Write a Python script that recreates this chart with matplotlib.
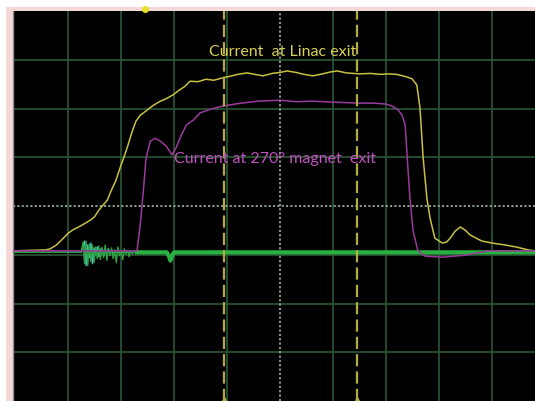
import matplotlib
matplotlib.use("Agg")
import matplotlib.pyplot as plt
from matplotlib.patches import Rectangle

# time in divisions, signal in divisions
linac_t = [-0.04, 0.58, 0.66, 0.78, 0.91, 1.00, 1.09, 1.25, 1.42, 1.50, 1.57, 1.66,
           1.74, 1.81, 1.90, 1.98, 2.06, 2.13, 2.20, 2.28, 2.36, 2.47, 2.60, 2.74,
           2.85, 2.98, 3.10, 3.20, 3.30, 3.45, 3.60, 3.75, 3.92, 4.05, 4.20, 4.38,
           4.52, 4.68, 4.85, 5.00, 5.13, 5.30, 5.45, 5.62, 5.80, 5.95, 6.08, 6.25,
           6.51, 6.70, 6.90, 7.04, 7.20, 7.35, 7.49, 7.58, 7.64, 7.70, 7.77, 7.83,
           7.92, 8.06, 8.14, 8.21, 8.30, 8.40, 8.50, 8.58, 8.70, 8.81, 9.00, 9.25,
           9.45, 9.68, 9.81]
linac_v = [-0.92, -0.90, -0.88, -0.80, -0.66, -0.56, -0.49, -0.40, -0.29, -0.22, -0.10, 0.02,
           0.12, 0.31, 0.52, 0.78, 1.02, 1.25, 1.50, 1.74, 1.86, 1.95, 2.06, 2.15,
           2.20, 2.28, 2.38, 2.45, 2.56, 2.55, 2.60, 2.58, 2.63, 2.66, 2.70, 2.73,
           2.70, 2.67, 2.72, 2.74, 2.77, 2.74, 2.70, 2.67, 2.71, 2.75, 2.77, 2.73,
           2.71, 2.72, 2.70, 2.71, 2.70, 2.66, 2.61, 2.48, 2.01, 0.98, 0.16, -0.25,
           -0.66, -0.76, -0.74, -0.66, -0.52, -0.43, -0.50, -0.59, -0.66, -0.72, -0.76, -0.80,
           -0.84, -0.90, -0.92]

magnet_t = [-0.04, 2.30, 2.36, 2.42, 2.47, 2.55, 2.64, 2.74, 2.85, 2.96, 3.04, 3.11,
            3.23, 3.36, 3.49, 3.70, 3.92, 4.20, 4.57, 5.00, 5.30, 5.62, 6.00, 6.51,
            6.79, 7.00, 7.11, 7.22, 7.30, 7.36, 7.40, 7.45, 7.51, 7.60, 7.74, 8.06,
            8.49, 8.92, 9.81]
magnet_v = [-0.92, -0.92, -0.39, 0.31, 0.98, 1.33, 1.39, 1.33, 1.23, 1.05, 1.20, 1.39,
            1.66, 1.76, 1.91, 1.99, 2.05, 2.10, 2.15, 2.17, 2.14, 2.15, 2.13, 2.11,
            2.11, 2.09, 2.05, 1.98, 1.87, 1.66, 0.98, 0.16, -0.51, -0.92, -1.03, -1.05,
            -1.01, -0.92, -0.92]

noise_t = [-0.04, 1.25, 1.28, 1.31, 1.34, 1.37, 1.40, 1.43, 1.46, 1.49, 1.52, 1.55,
           1.58, 1.61, 1.64, 1.67, 1.70, 1.73, 1.76, 1.79, 1.82, 1.85, 1.88, 1.91,
           1.94, 1.97, 2.00, 2.03, 2.06, 2.09, 2.12, 2.15, 2.18, 2.21, 2.24, 2.30]
noise_v = [-0.95, -0.95, -0.74, -1.18, -0.72, -1.22, -0.78, -1.14, -0.80, -1.16, -0.84, -1.08,
           -0.82, -1.10, -0.86, -1.06, -0.80, -1.12, -0.88, -1.02, -0.86, -1.08, -0.90, -1.16,
           -0.84, -1.02, -0.92, -1.10, -0.88, -0.99, -0.91, -1.04, -0.93, -0.98, -0.95, -0.95]
cyan_v = [-0.95, -0.95, -0.82, -0.72, -1.22, -0.80, -1.06, -0.76, -1.18, -0.86, -1.00, -0.84,
          -1.04, -0.90, -0.86, -1.02, -0.93, -0.97, -0.87, -0.99, -0.93, -0.97, -0.95, -0.95,
          -0.95, -0.95, -0.95, -0.95, -0.95, -0.95, -0.95, -0.95, -0.95, -0.95, -0.95, -0.95]

base_t = [2.30, 2.86, 2.90, 2.93, 2.97, 3.00, 9.81]
base_v = [-0.95, -0.95, -1.02, -1.12, -1.00, -0.95, -0.95]

cursors = [3.94, 6.45]
trigger_t = 2.45

fig = plt.figure(figsize=(5.35, 4.02), dpi=100)
fig.patch.set_facecolor("white")
fig.patches.append(Rectangle((6 / 535, 0), 1, (402 - 8) / 402, transform=fig.transFigure,
                             facecolor="#f4d8d8", edgecolor="none", zorder=-10))
ax = fig.add_axes([13 / 535, 0, 522 / 535, 390 / 402])
ax.set_zorder(1)
ax.set_facecolor("black")
ax.set_xlim(-0.04, 9.81)
ax.set_ylim(-4, 4)

# graticule
grid_col = "#2a5834"
for x in range(1, 10):
    if x != 5:
        ax.axvline(x, color=grid_col, lw=1.2, zorder=1)
for y in [-3, -2, -1, 1, 2, 3]:
    ax.axhline(y, color=grid_col, lw=1.2, zorder=1)
ax.axvline(5, color="#9fb89f", lw=1.2, ls=(0, (1.3, 1.3)), zorder=1)
ax.axhline(0, color="#9fb89f", lw=1.2, ls=(0, (1.3, 1.3)), zorder=1)

# traces
ax.plot(noise_t, cyan_v, color="#40c8c8", lw=1.0, zorder=3)
ax.plot(noise_t, noise_v, color="#30a040", lw=1.0, zorder=3)
ax.plot(base_t, base_v, color="#28b040", lw=3.0, zorder=3)
ax.plot(linac_t, linac_v, color="#c8c040", lw=1.1, zorder=4)
ax.plot(magnet_t, magnet_v, color="#9a3a9a", lw=1.1, zorder=4)

# cursors
for c in cursors:
    ax.axvline(c, color="#b4ac40", lw=1.6, ls=(0, (5.5, 2.3)), zorder=5)
    ax.plot([c], [-3.98], marker="^", color="#b4ac40", ms=4, clip_on=False, zorder=5)
ax.plot([trigger_t], [4.04], marker="o", color="#e8e020", ms=4, clip_on=False, zorder=6)

ax.text(3.66, 3.18, "Current  at Linac exit", color="#d8d050", fontsize=11.5,
        family="Lato", va="center", ha="left", zorder=6)
ax.text(3.0, 0.98, "Current at 270° magnet  exit", color="#c050c0", fontsize=11.5,
        family="Lato", va="center", ha="left", zorder=6)

ax.set_xticks([])
ax.set_yticks([])
for s in ["top", "right", "bottom"]:
    ax.spines[s].set_visible(False)
ax.spines["left"].set_color("#909090")
ax.spines["left"].set_linewidth(1.0)

fig.savefig("out.png", dpi=100, facecolor=fig.get_facecolor())
